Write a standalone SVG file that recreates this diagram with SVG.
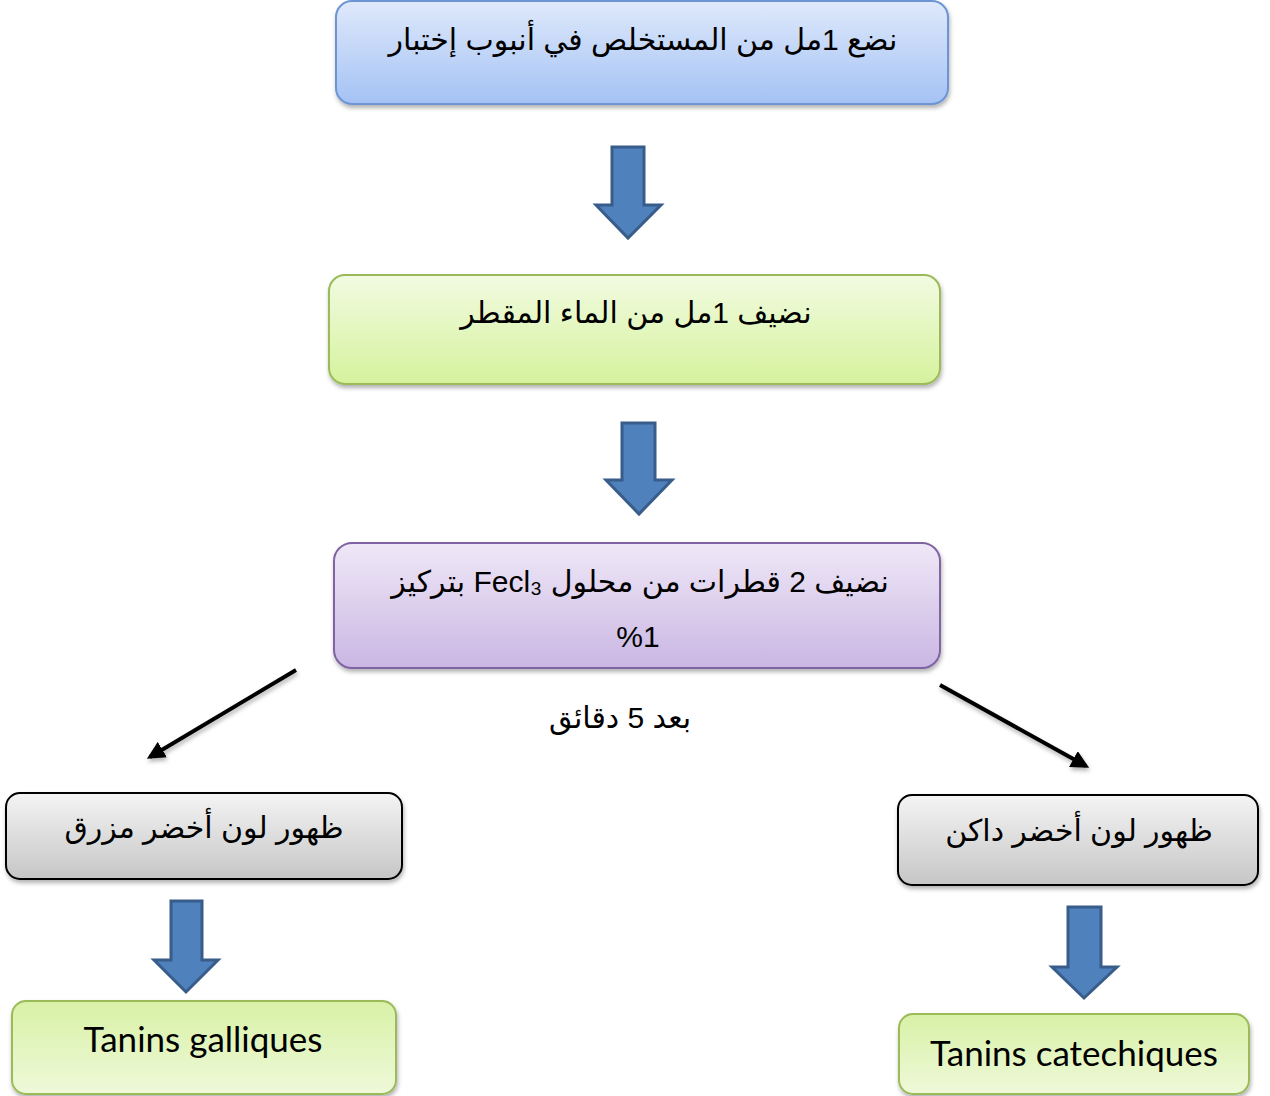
<svg xmlns="http://www.w3.org/2000/svg" width="1270" height="1096" viewBox="0 0 1270 1096">
<defs>
  <linearGradient id="gBlue" x1="0" y1="0" x2="0" y2="1">
    <stop offset="0" stop-color="#dfe9fb"/>
    <stop offset="1" stop-color="#a4c2f4"/>
  </linearGradient>
  <linearGradient id="gGreen" x1="0" y1="0" x2="0" y2="1">
    <stop offset="0" stop-color="#f2fbe2"/>
    <stop offset="1" stop-color="#d5f29c"/>
  </linearGradient>
  <linearGradient id="gGreen2" x1="0" y1="0" x2="0" y2="1">
    <stop offset="0" stop-color="#d8f1a6"/>
    <stop offset="1" stop-color="#eef9d9"/>
  </linearGradient>
  <linearGradient id="gPurple" x1="0" y1="0" x2="0" y2="1">
    <stop offset="0" stop-color="#efe8f7"/>
    <stop offset="1" stop-color="#cab6e3"/>
  </linearGradient>
  <linearGradient id="gGray" x1="0" y1="0" x2="0" y2="1">
    <stop offset="0" stop-color="#f4f4f4"/>
    <stop offset="1" stop-color="#c6c6c6"/>
  </linearGradient>
  <filter id="shadow" x="-10%" y="-10%" width="120%" height="130%">
    <feDropShadow dx="1" dy="3" stdDeviation="2" flood-color="#000" flood-opacity="0.3"/>
  </filter>
  <marker id="ahead" viewBox="0 0 10 10" refX="8" refY="5" markerWidth="18" markerHeight="18" markerUnits="userSpaceOnUse" orient="auto">
    <path d="M0,0 L10,5 L0,10 Z" fill="#000"/>
  </marker>
</defs>
<style>
  .box { stroke-width: 2; filter: url(#shadow); }
  .ar { font-family: "Liberation Sans", "DejaVu Sans", sans-serif; font-size: 30px; fill: #000; direction: rtl; text-anchor: middle; }
  .lat { font-family: Lato, "Open Sans", sans-serif; font-size: 35px; fill: #000; text-anchor: middle; }
  .block { fill: #4f81bd; stroke: #385d8a; stroke-width: 3; stroke-linejoin: miter; }
  .conn { stroke: #000; stroke-width: 4; fill: none; filter: url(#shadow); }
</style>

<g id="node-step1">
  <rect class="box" x="336" y="1" width="612" height="103" rx="16" fill="url(#gBlue)" stroke="#6d95d3"/>
  <text class="ar" x="643" y="50">نضع 1مل من المستخلص في أنبوب إختبار</text>
</g>

<g id="node-step2">
  <rect class="box" x="329" y="275" width="611" height="109" rx="16" fill="url(#gGreen)" stroke="#9bbb59"/>
  <text class="ar" x="636" y="323" font-size="29">نضيف 1مل من الماء المقطر</text>
</g>

<g id="node-step3">
  <rect class="box" x="334" y="543" width="606" height="125" rx="18" fill="url(#gPurple)" stroke="#8064a2"/>
  <text class="ar" x="640" y="592">نضيف 2 قطرات من محلول Fecl₃ بتركيز</text>
  <text class="ar" x="638" y="647">%1</text>
</g>

<g id="label-time">
  <text class="ar" x="620" y="728" font-size="27">بعد 5 دقائق</text>
</g>

<g id="node-result-left">
  <rect class="box" x="6" y="793" width="396" height="86" rx="14" fill="url(#gGray)" stroke="#000"/>
  <text class="ar" x="204" y="838" font-size="32">ظهور لون أخضر مزرق</text>
</g>

<g id="node-result-right">
  <rect class="box" x="898" y="795" width="360" height="90" rx="14" fill="url(#gGray)" stroke="#000"/>
  <text class="ar" x="1079" y="841" font-size="31">ظهور لون أخضر داكن</text>
</g>

<g id="node-tanins-galliques">
  <rect class="box" x="12" y="1001" width="384" height="93" rx="14" fill="url(#gGreen2)" stroke="#9bbb59"/>
  <text class="lat" x="203" y="1052">Tanins galliques</text>
</g>

<g id="node-tanins-catechiques">
  <rect class="box" x="899" y="1014" width="350" height="80" rx="14" fill="url(#gGreen2)" stroke="#9bbb59"/>
  <text class="lat" x="1074" y="1066">Tanins catechiques</text>
</g>

<g id="connectors">
  <path class="block" d="M612,147 H644 V205 H661 L628,238 L596,205 H612 Z"/>
  <path class="block" d="M622,423 H655 V480 H672 L639,514 L606,480 H622 Z"/>
  <path class="block" d="M171,901 H202 V960 H218 L186,992 L154,960 H171 Z"/>
  <path class="block" d="M1068,907 H1101 V967 H1117 L1084,998 L1052,967 H1068 Z"/>
  <line class="conn" x1="296" y1="670" x2="150" y2="757" marker-end="url(#ahead)"/>
  <line class="conn" x1="940" y1="685" x2="1086" y2="766" marker-end="url(#ahead)"/>
</g>
</svg>
